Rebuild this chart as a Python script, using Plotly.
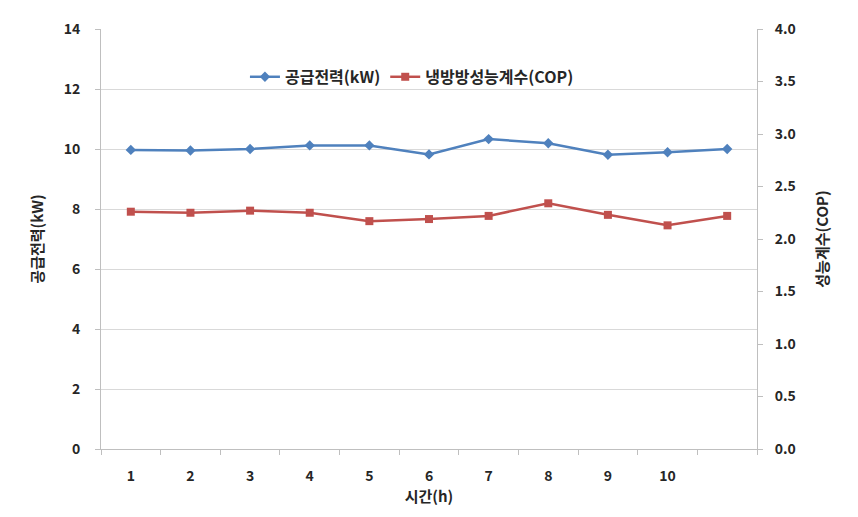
import plotly.graph_objects as go

hours = [1, 2, 3, 4, 5, 6, 7, 8, 9, 10, 11]
tick_labels = ["1", "2", "3", "4", "5", "6", "7", "8", "9", "10"]
power_kw = [9.97, 9.95, 10.0, 10.12, 10.12, 9.82, 10.33, 10.19, 9.81, 9.89, 10.0]
cop = [2.26, 2.25, 2.27, 2.25, 2.17, 2.19, 2.22, 2.34, 2.23, 2.13, 2.22]

FONT = "Noto Sans CJK KR"
BLUE = "#4f81bd"
RED = "#c0504d"
TXT = "#262626"

fig = go.Figure()
fig.add_trace(go.Scatter(
    x=hours, y=power_kw, name="공급전력(kW)", mode="lines+markers",
    line=dict(color=BLUE, width=2.5),
    marker=dict(symbol="diamond", size=8, color=BLUE),
    yaxis="y"))
fig.add_trace(go.Scatter(
    x=hours, y=cop, name="냉방방성능계수(COP)", mode="lines+markers",
    line=dict(color=RED, width=2.5),
    marker=dict(symbol="square", size=8, color=RED),
    yaxis="y2"))

tickfont = dict(family=FONT, size=14, weight="bold", color=TXT)
titlefont = dict(family=FONT, size=15, weight="bold", color=TXT)

fig.update_layout(
    width=858, height=517,
    margin=dict(l=101, r=101, t=29, b=68),
    paper_bgcolor="white", plot_bgcolor="white",
    font=dict(family=FONT, size=13, color=TXT),
    showlegend=True,
    legend=dict(orientation="h", x=0.474, y=0.886, xanchor="center", yanchor="middle",
                font=dict(family=FONT, size=16, color=TXT, weight="bold"),
                bgcolor="rgba(255,255,255,0)", itemwidth=30, traceorder="normal"),
    xaxis=dict(
        range=[0.5, 11.5], tickvals=list(range(1, 11)), ticktext=tick_labels,
        ticks="", showgrid=False, zeroline=False,
        showline=True, linecolor="#bfbfbf", linewidth=1,
        tickfont=tickfont, ticklabelstandoff=14,
        minor=dict(tickvals=[i + 0.5 for i in range(0, 12)], ticks="outside",
                   ticklen=5, tickcolor="#bfbfbf", showgrid=False),
        title=dict(text="시간(h)", font=titlefont, standoff=2),
    ),
    yaxis=dict(
        range=[0, 14], dtick=2, tickformat="d",
        showgrid=True, gridcolor="#d9d9d9", gridwidth=1, zeroline=False,
        showline=True, linecolor="#bfbfbf", linewidth=1,
        ticks="outside", ticklen=5, tickcolor="#bfbfbf",
        tickfont=tickfont, ticklabelstandoff=12,
        title=dict(text="공급전력(kW)", font=titlefont, standoff=16),
    ),
    yaxis2=dict(
        range=[0, 4.0], dtick=0.5, tickformat=".1f", overlaying="y", side="right",
        showgrid=False, zeroline=False,
        showline=True, linecolor="#bfbfbf", linewidth=1,
        ticks="outside", ticklen=5, tickcolor="#bfbfbf",
        tickfont=tickfont, ticklabelstandoff=9,
        title=dict(text="성능계수(COP)", font=titlefont, standoff=22),
    ),
)

fig.write_html("out.html")
